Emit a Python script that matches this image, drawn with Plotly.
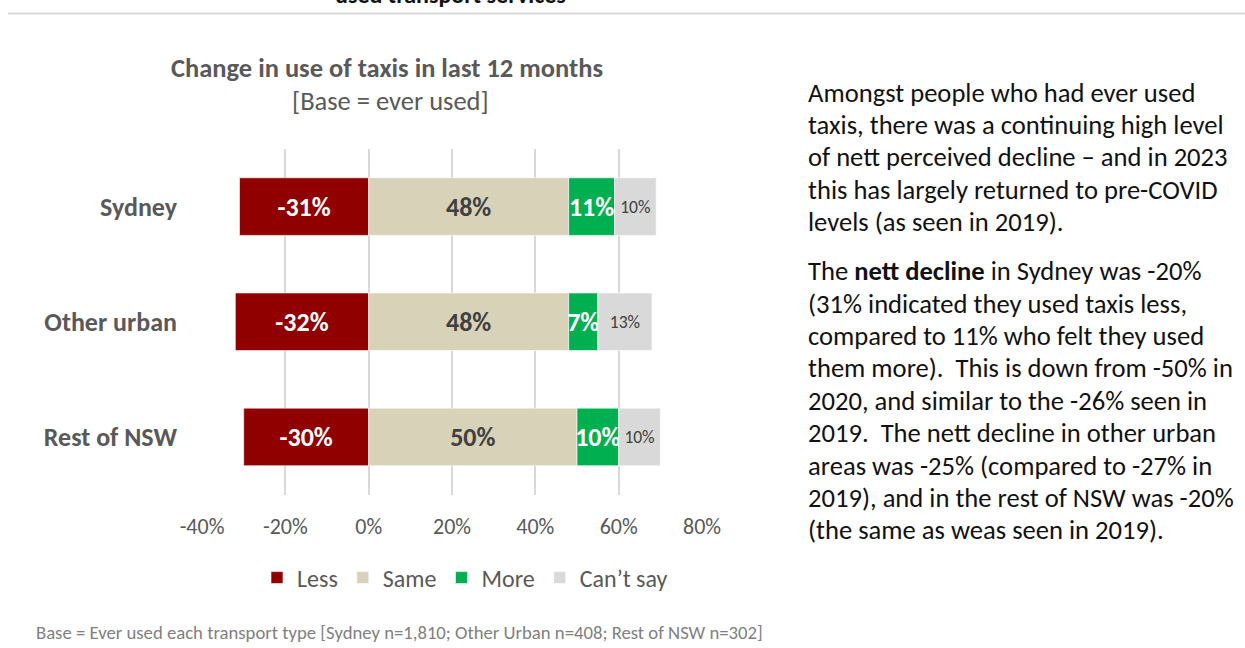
import plotly.graph_objects as go

# Survey results: change in taxi use over the last 12 months, by region
regions = ["Sydney", "Other urban", "Rest of NSW"]
less = [-31, -32, -30]
same = [48, 48, 50]
more = [11, 7, 10]
cant_say = [10, 13, 10]

x_ticks = [-40, -20, 0, 20, 40, 60, 80]
x_tick_labels = ["-40%", "-20%", "0%", "20%", "40%", "60%", "80%"]

W, H = 1245, 648
FONT = "Calibri, Lato, sans-serif"
GREY = "#595959"


def px(x):
    return x / W


def py(y):
    return 1 - y / H


series = [
    ("Less", less, "#900000", dict(color="white", size=26, family=FONT), True),
    ("Same", same, "#D8D2B9", dict(color="#404040", size=26, family=FONT), True),
    ("More", more, "#00B050", dict(color="white", size=26, family=FONT), True),
    ("Can\u2019t say", cant_say, "#D9D9D9", dict(color="#404040", size=17.5, family=FONT), False),
]

fig = go.Figure()
for name, vals, color, tfont, bold in series:
    tmpl = "<b>%{x:.0f}%</b>" if bold else "%{x:.0f}%"
    fig.add_trace(go.Bar(
        name=name,
        y=regions,
        x=vals,
        orientation="h",
        marker=dict(color=color, line=dict(color="rgba(255,255,255,0.6)", width=1)),
        texttemplate=tmpl,
        textposition="inside",
        insidetextanchor="middle",
        textangle=0,
        constraintext="none",
        textfont=tfont,
        hoverinfo="skip",
    ))

fig.update_layout(
    width=W,
    height=H,
    margin=dict(l=0, r=0, t=0, b=0, autoexpand=False),
    paper_bgcolor="white",
    plot_bgcolor="white",
    barmode="relative",
    bargap=0.5,
    font=dict(family=FONT, color=GREY),
    showlegend=True,
    legend=dict(
        orientation="h",
        x=px(257), xanchor="left",
        y=py(578), yanchor="middle",
        font=dict(size=24, color=GREY, family=FONT),
        traceorder="normal",
        itemclick=False,
        itemdoubleclick=False,
    ),
    xaxis=dict(
        domain=[px(202), px(702)],
        range=[-40, 80],
        tickvals=x_ticks,
        ticktext=x_tick_labels,
        showgrid=True,
        gridcolor="#D9D9D9",
        gridwidth=2,
        zeroline=True,
        zerolinecolor="#D9D9D9",
        zerolinewidth=2,
        showline=False,
        ticks="",
        ticklabelstandoff=16,
        tickfont=dict(size=22, color=GREY, family=FONT),
        automargin=False,
        fixedrange=True,
    ),
    yaxis=dict(
        domain=[py(494.5), py(149)],
        autorange="reversed",
        showgrid=False,
        zeroline=False,
        showline=False,
        ticks="",
        ticklabelstandoff=24,
        tickfont=dict(size=26, color=GREY, family=FONT),
        tickprefix="<b>",
        ticksuffix="</b>",
        automargin=False,
        fixedrange=True,
    ),
)

annotations = []

# Chart heading
annotations.append(dict(
    text="<b>Change in use of taxis in last 12 months</b>",
    x=px(387), y=py(68), xref="paper", yref="paper",
    xanchor="center", yanchor="middle", showarrow=False,
    font=dict(size=26.5, color=GREY, family=FONT),
))
annotations.append(dict(
    text="[Base = ever used]",
    x=px(390), y=py(101), xref="paper", yref="paper",
    xanchor="center", yanchor="middle", showarrow=False,
    font=dict(size=26.5, color=GREY, family=FONT),
))

# Heading of the section above, cut by the page edge
annotations.append(dict(
    text="<b>used transport services</b>",
    x=px(333), y=py(11), xref="paper", yref="paper",
    xanchor="left", yanchor="bottom", showarrow=False,
    font=dict(size=24, color="#111111", family=FONT),
))

# Base note
annotations.append(dict(
    text="Base = Ever used each transport type [Sydney n=1,810; Other Urban n=408; Rest of NSW n=302]",
    x=px(34), y=py(632), xref="paper", yref="paper",
    xanchor="left", yanchor="middle", showarrow=False,
    font=dict(size=18.7, color="#808080", family=FONT),
))

# Commentary text
commentary = [
    ("Amongst people who had ever used", 92.5),
    ("taxis, there was a continuing high level", 125),
    ("of nett perceived decline \u2013 and in 2023", 157),
    ("this has largely returned to pre-COVID", 189.5),
    ("levels (as seen in 2019).", 222),
    ("The <b>nett decline</b> in Sydney was -20%", 271.5),
    ("(31% indicated they used taxis less,", 303.5),
    ("compared to 11% who felt they used", 336),
    ("them more).  This is down from -50% in", 368),
    ("2020, and similar to the -26% seen in", 400.5),
    ("2019.  The nett decline in other urban", 433),
    ("areas was -25% (compared to -27% in", 465.5),
    ("2019), and in the rest of NSW was -20%", 497.5),
    ("(the same as weas seen in 2019).", 530),
]
for line, yy in commentary:
    annotations.append(dict(
        text=line,
        x=px(806), y=py(yy), xref="paper", yref="paper",
        xanchor="left", yanchor="middle", showarrow=False,
        font=dict(size=26.6, color="#111111", family=FONT),
    ))

fig.update_layout(annotations=annotations)

# Rule under the section heading
fig.add_shape(
    type="line", xref="paper", yref="paper",
    x0=px(8), x1=1, y0=py(13.5), y1=py(13.5),
    line=dict(color="#D9D9D9", width=2),
)

fig.write_html("out.html")
